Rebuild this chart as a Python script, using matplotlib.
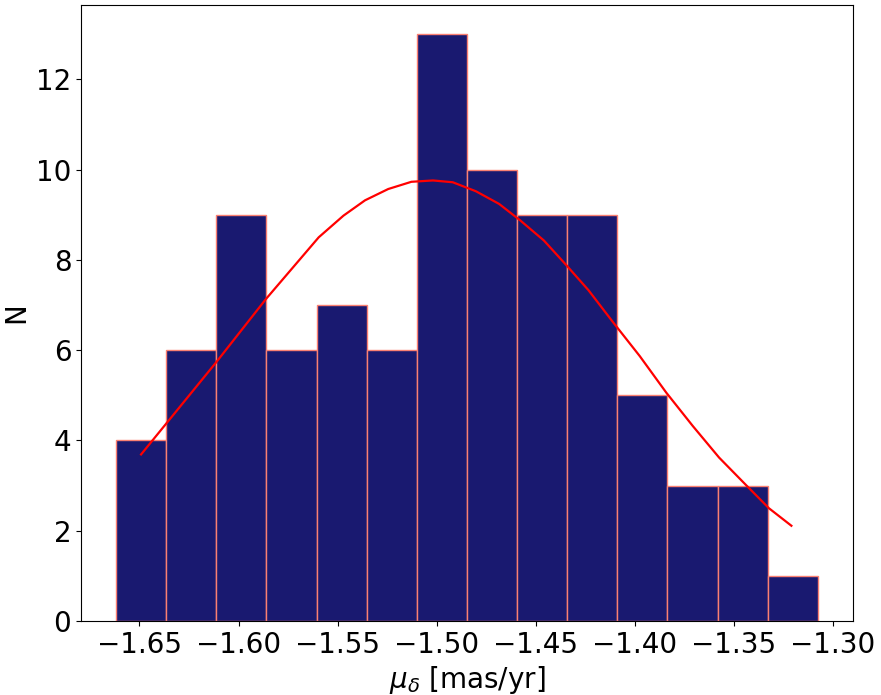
import numpy as np
import matplotlib.pyplot as plt

# histogram of mu_delta (bin counts)
bin_edges = np.linspace(-1.6618, -1.3075, 15)
counts = [4, 6, 9, 6, 7, 6, 13, 10, 9, 9, 5, 3, 3, 1]

# fitted gaussian curve
fit_x = [-1.6492, -1.6113, -1.5862, -1.5595, -1.5470, -1.5361, -1.5244, -1.5127,
         -1.5018, -1.4918, -1.4801, -1.4684, -1.4576, -1.4458, -1.4350, -1.4233,
         -1.4107, -1.3974, -1.3840, -1.3706, -1.3573, -1.3439, -1.3322, -1.3208]
fit_y = [3.69, 5.73, 7.13, 8.50, 8.98, 9.32, 9.57, 9.73,
         9.76, 9.72, 9.52, 9.24, 8.87, 8.43, 7.91, 7.33,
         6.61, 5.87, 5.06, 4.32, 3.62, 3.02, 2.50, 2.11]

fig = plt.figure(figsize=(8.81, 6.95), dpi=100)
ax = fig.add_axes([0.092, 0.1065, 0.876, 0.8865])

centers = 0.5 * (bin_edges[:-1] + bin_edges[1:])
ax.hist(centers, bins=bin_edges, weights=counts, color='midnightblue', edgecolor='salmon')
ax.plot(fit_x, fit_y, color='red', linewidth=1.6)

ax.set_xlabel(r'$\mu_\delta$ [mas/yr]', fontsize=20)
ax.set_ylabel('N', fontsize=20)
ax.tick_params(labelsize=20)

fig.savefig('out.png', dpi=100)
